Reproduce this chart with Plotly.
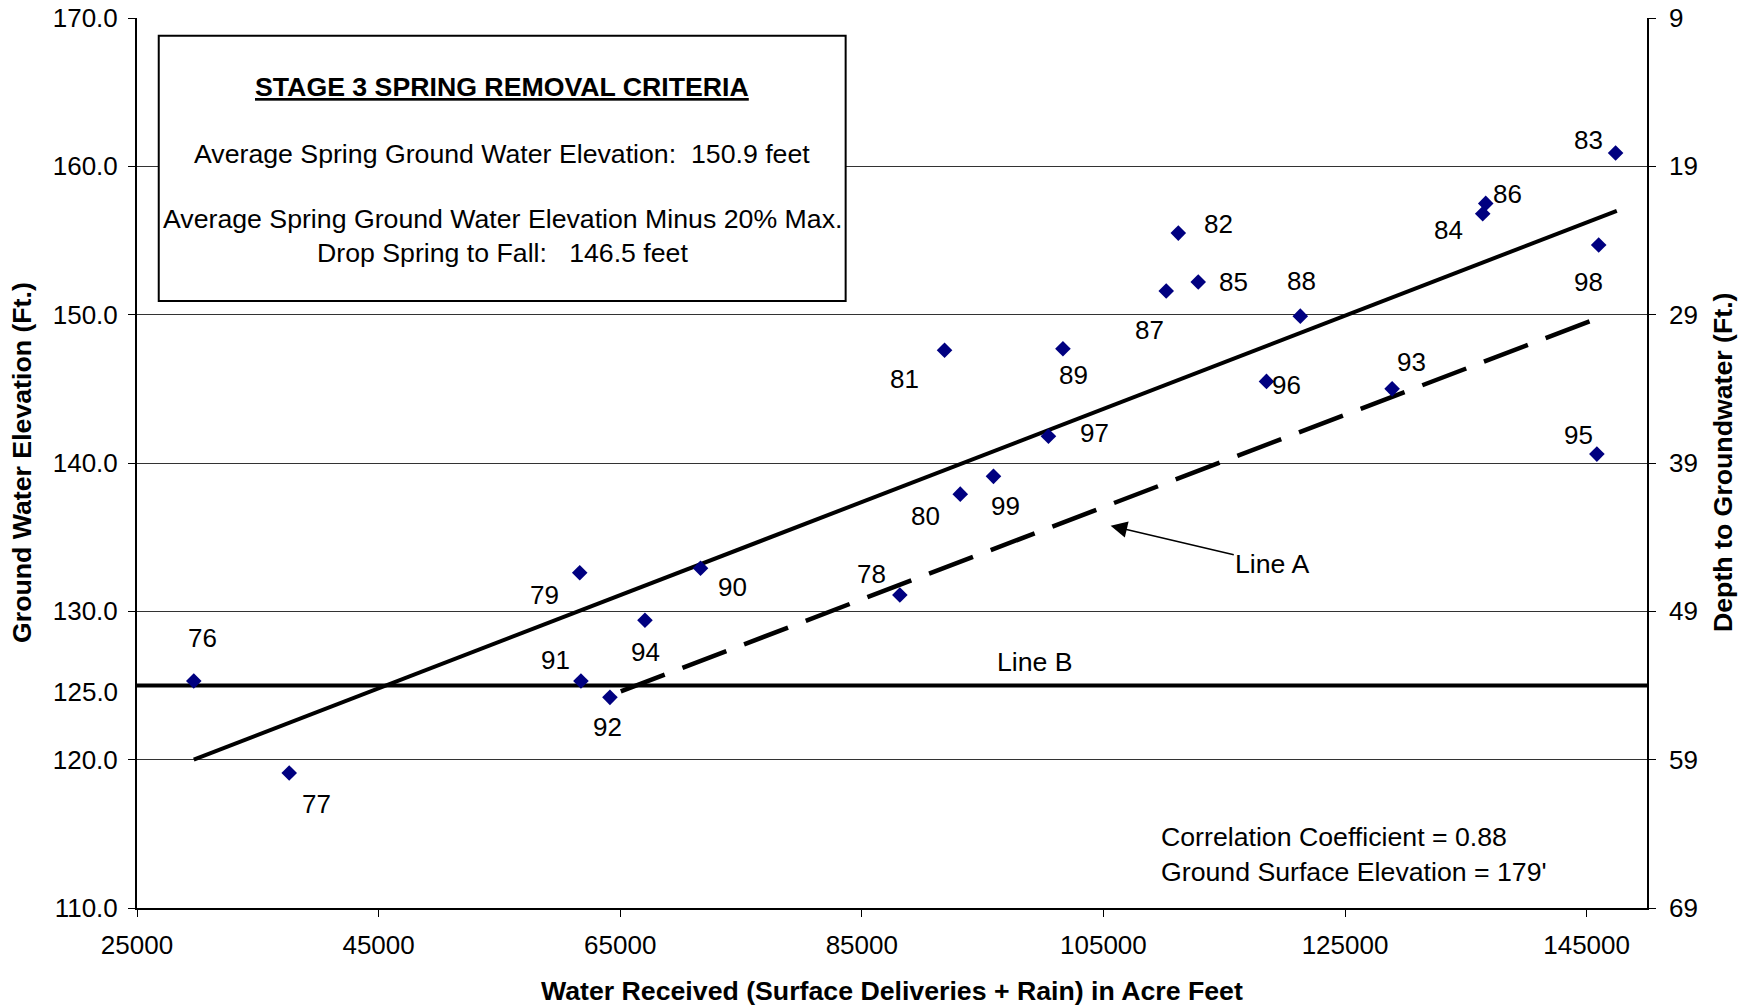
import plotly.graph_objects as go

# ---------------- data ----------------
years = ["76", "77", "78", "79", "80", "81", "82", "83", "84", "85", "86", "87",
         "88", "89", "90", "91", "92", "93", "94", "95", "96", "97", "98", "99"]
water_received = [29700, 37600, 88150, 61650, 93150, 91850, 111200, 147400, 136400,
                  112850, 136650, 110200, 121300, 101650, 71650, 61750, 64150, 128900,
                  67050, 145850, 118500, 100450, 146000, 95900]
gw_elevation = [125.3, 119.1, 131.1, 132.6, 137.9, 147.6, 155.5, 160.9, 156.8,
                152.2, 157.5, 151.6, 149.9, 147.7, 132.9, 125.3, 124.2, 145.0,
                129.4, 140.6, 145.5, 141.8, 154.7, 139.1]

trend_x = [29700, 147500]
trend_y = [120.0, 157.0]
line_a_x = [65050, 146700]
line_a_y = [124.6, 150.0]
line_b_x = [25000, 150000]
line_b_y = [125.0, 125.0]

ground_surface = 179
left_ticks = [110, 120, 130, 140, 150, 160, 170]
right_ticks = [9, 19, 29, 39, 49, 59, 69]
x_ticks = [25000, 45000, 65000, 85000, 105000, 125000, 145000]

# label offsets (pixels) for each year label relative to its point
label_offsets = {
    "76": (9, 43), "77": (27, -31), "78": (-28, 21), "79": (-35, -22),
    "80": (-35, -22), "81": (-40, -29), "82": (40, 9), "83": (-27, 13),
    "84": (-34, -16), "85": (35, 0), "86": (22, 9), "87": (-17, -39),
    "88": (1, 35), "89": (11, -26), "90": (32, -19), "91": (-25, 21),
    "92": (-2, -30), "93": (19, 27), "94": (1, -32), "95": (-18, 19),
    "96": (20, -4), "97": (46, 3), "98": (-10, -37), "99": (12, -30),
}

FONT = "Liberation Sans, Arial, sans-serif"
FS = 26
FS_TXT = 26.7

fig = go.Figure()

# Line B
fig.add_trace(go.Scatter(x=line_b_x, y=line_b_y, mode="lines",
                         line=dict(color="black", width=4), hoverinfo="skip"))
# regression line
fig.add_trace(go.Scatter(x=trend_x, y=trend_y, mode="lines",
                         line=dict(color="black", width=4), hoverinfo="skip"))
# Line A (dashed)
fig.add_trace(go.Scatter(x=line_a_x, y=line_a_y, mode="lines",
                         line=dict(color="black", width=4.5, dash="47px,19px"),
                         hoverinfo="skip"))
# points
fig.add_trace(go.Scatter(x=water_received, y=gw_elevation, mode="markers",
                         marker=dict(symbol="diamond", size=12, color="#000080",
                                     line=dict(width=0)),
                         text=years, hoverinfo="text+x+y"))
# invisible trace for depth axis
fig.add_trace(go.Scatter(x=water_received, y=[ground_surface - v for v in gw_elevation],
                         yaxis="y2", mode="markers", marker=dict(opacity=0),
                         hoverinfo="skip"))

def font(size=FS):
    return dict(family=FONT, size=size, color="black")

annotations = []
for yr, xv, yv in zip(years, water_received, gw_elevation):
    dx, dy = label_offsets[yr]
    annotations.append(dict(x=xv, y=yv, xref="x", yref="y", text=yr, showarrow=False,
                            xshift=dx, yshift=dy, font=font()))

# 125.0 extra tick label
annotations.append(dict(x=0, y=125, xref="paper", yref="y", text="125.0", showarrow=False,
                        xanchor="right", xshift=-17, yshift=-6, font=font()))

# Line labels
annotations.append(dict(x=99350, y=126.6, xref="x", yref="y", text="Line B", showarrow=False,
                        font=font(FS_TXT)))
annotations.append(dict(x=105600, y=135.77, xref="x", yref="y", ax=118980, ay=133.2,
                        axref="x", ayref="y", text="Line A", showarrow=True,
                        arrowhead=2, arrowsize=2.2, arrowwidth=1.5, arrowcolor="black",
                        font=font(FS_TXT)))

# correlation text
annotations.append(dict(x=109630, y=114.8, xref="x", yref="y", xanchor="left",
                        text="Correlation Coefficient = 0.88", showarrow=False,
                        font=font(FS_TXT)))
annotations.append(dict(x=109630, y=112.45, xref="x", yref="y", xanchor="left",
                        text="Ground Surface Elevation = 179'", showarrow=False,
                        font=font(FS_TXT)))

# criteria box text
box_cx = (0.0144 + 0.4693) / 2
box_lines = [
    ("<b><u>STAGE 3 SPRING REMOVAL CRITERIA</u></b>", 87.3),
    ("Average Spring Ground Water Elevation:  150.9 feet", 154.4),
    ("Average Spring Ground Water Elevation Minus 20% Max.", 219),
    ("Drop Spring to Fall:   146.5 feet", 252.8),
]
for txt, ypx in box_lines:
    annotations.append(dict(x=box_cx, y=(908 - ypx) / 890, xref="paper", yref="paper",
                            xanchor="center", yanchor="middle",
                            text=txt, showarrow=False, font=font(FS_TXT)))

# axis titles
annotations.append(dict(x=(22 - 137) / 1510, y=0.5, xref="paper", yref="paper",
                        xanchor="center", yanchor="middle",
                        text="<b>Ground Water Elevation (Ft.)</b>", textangle=-90,
                        showarrow=False, font=font(FS_TXT)))
annotations.append(dict(x=(1723 - 137) / 1510, y=0.5, xref="paper", yref="paper",
                        xanchor="center", yanchor="middle",
                        text="<b>Depth to Groundwater (Ft.)</b>", textangle=-90,
                        showarrow=False, font=font(FS_TXT)))
annotations.append(dict(x=0.5, y=(908 - 991) / 890, xref="paper", yref="paper",
                        xanchor="center", yanchor="middle",
                        text="<b>Water Received (Surface Deliveries + Rain) in Acre Feet</b>",
                        showarrow=False, font=font(FS_TXT)))

shapes = [dict(type="rect", xref="paper", yref="paper", x0=0.0144, x1=0.4693,
               y0=(908 - 301) / 890, y1=(908 - 35.8) / 890,
               line=dict(color="black", width=2), fillcolor="white", layer="above")]

fig.update_layout(
    width=1754, height=1008,
    margin=dict(l=137, r=107, t=18, b=100, pad=0),
    paper_bgcolor="white", plot_bgcolor="white",
    showlegend=False,
    font=font(),
    xaxis=dict(range=[25000, 150000], tickvals=x_ticks, ticks="outside", ticklen=7,
               tickcolor="black", tickwidth=1, showline=True, linecolor="black",
               linewidth=2, showgrid=False, zeroline=False, tickformat="d",
               ticklabelstandoff=6, automargin=False, tickfont=font()),
    yaxis=dict(range=[110, 170], tickvals=left_ticks, tickformat=".1f", ticks="outside",
               ticklen=7, tickcolor="black", tickwidth=1, showline=True, linecolor="black",
               linewidth=2, showgrid=True, gridcolor="#333333", gridwidth=1, zeroline=False,
               ticklabelstandoff=5, automargin=False, tickfont=font()),
    yaxis2=dict(range=[69, 9], tickvals=right_ticks, overlaying="y", side="right",
                ticks="outside", ticklen=7, tickcolor="black", tickwidth=1, showline=True,
                linecolor="black", linewidth=1.5, showgrid=False, zeroline=False,
                ticklabelstandoff=8, automargin=False, tickfont=font()),
    annotations=annotations,
    shapes=shapes,
)

fig.write_html("out.html", config={"displayModeBar": False},
               post_script="document.body.style.margin='0';")
